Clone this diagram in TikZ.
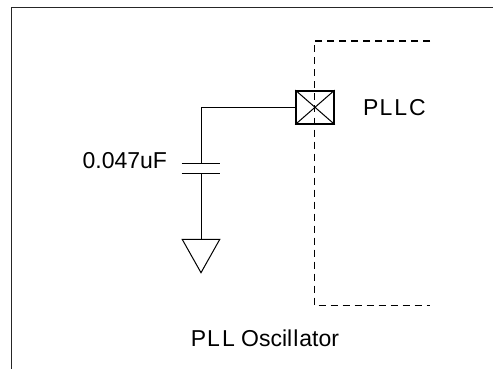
\documentclass[tikz,border=0pt]{standalone}
\usepackage{fontspec}
\setmainfont{Liberation Sans}
\begin{document}
\begin{tikzpicture}[x=1pt,y=-1pt,
  frame/.style={line width=1.5pt,black!85},
  wire/.style={line width=1pt,black},
  dashbox/.style={line width=1.2pt,dash pattern=on 7pt off 5pt},
  pinbox/.style={draw,line width=1.5pt,minimum width=38pt,minimum height=33pt,inner sep=0pt},
  lbl/.style={font=\fontsize{23}{27}\selectfont,inner sep=0pt}]
\useasboundingbox (0,0) rectangle (493,369);
% frame
\draw[frame] (11.7,369) -- (11.7,7.5) -- (493,7.5);
% dashed block
\draw[dashbox] (430,41) -- (314.5,41) -- (314.5,305.5) -- (430,305.5);
% pin
\node[pinbox] (pin) at (315,107.3) {};
\draw[wire] (pin.north west) -- (pin.south east) (pin.north east) -- (pin.south west);
\node[lbl] (pllc) at (394.5,107.5) {P\kern1ptL\kern2ptL\kern2ptC};
% wire to capacitor
\coordinate (corner) at (201,107.3);
\coordinate (captop) at (201,163);
\coordinate (capbot) at (201,173.3);
\coordinate (gnd) at (201,239.3);
\draw[wire] (pin.west) -- (corner) -- (captop);
\draw[wire] ([xshift=-19.3pt]captop) -- ([xshift=19.3pt]captop);
\draw[wire] ([xshift=-19.3pt]capbot) -- ([xshift=19.3pt]capbot);
\draw[wire] (capbot) -- (gnd);
\draw[wire] ([xshift=-18.8pt]gnd) -- ([xshift=18.8pt]gnd) -- (201,272.7) -- cycle;
\node[lbl] (cap) at (124.8,160.5) {0.047uF};
\node[lbl] (title) at (265,338) {P\kern1ptL\kern2ptL Oscil\kern1ptl\kern1ptator};
\end{tikzpicture}
\end{document}
